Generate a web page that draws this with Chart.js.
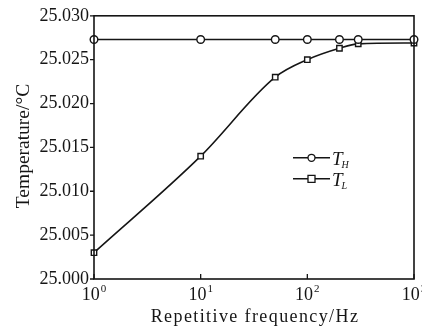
<!DOCTYPE html>
<html><head><meta charset="utf-8">
<script src="https://cdn.jsdelivr.net/npm/chart.js@4/dist/chart.umd.min.js"></script>
<style>html,body{margin:0;padding:0;background:#fff}#wrap{width:422px;height:332px}</style>
</head><body><div id="wrap"><canvas id="c" width="422" height="332"></canvas></div>
<script>
const frequencies = [1, 10, 50, 100, 200, 300, 1000];
const tempHigh = [25.0273, 25.0273, 25.0273, 25.0273, 25.0273, 25.0273, 25.0273];
const tempLow = [25.003, 25.014, 25.023, 25.025, 25.0263, 25.0268, 25.0269];
const xTicks = [1, 10, 100, 1000];
const xTickBase = '10';
const xTickExponents = ['0', '1', '2', '3'];
const seriesNames = [['T', 'H'], ['T', 'L']];
const xTitle = 'Repetitive frequency/Hz';
const yTitle = 'Temperature/\u00b0C';

const INK = '#151515';
const SERIF = '"Liberation Serif","Times New Roman",serif';

const framePlugin = {
  id: 'frame',
  afterDraw(chart) {
    const ctx = chart.ctx, a = chart.chartArea;
    const xs = chart.scales.x, ys = chart.scales.y;
    ctx.save();
    ctx.strokeStyle = INK;
    ctx.lineWidth = 1.6;
    ctx.strokeRect(a.left, a.top, a.right - a.left, a.bottom - a.top);
    ctx.lineWidth = 1.3;
    ctx.beginPath();
    xTicks.forEach(v => { const px = xs.getPixelForValue(v); ctx.moveTo(px, a.bottom); ctx.lineTo(px, a.bottom - 5); });
    ys.ticks.forEach(t => { const py = ys.getPixelForValue(t.value); ctx.moveTo(a.left, py); ctx.lineTo(a.left - 4, py); });
    ctx.stroke();
    // x tick labels with superscripts
    ctx.fillStyle = INK; ctx.textBaseline = 'alphabetic'; ctx.textAlign = 'left';
    xTicks.forEach((v, i) => {
      const px = xs.getPixelForValue(v);
      ctx.font = '18px ' + SERIF;
      const wb = ctx.measureText(xTickBase).width;
      ctx.font = '11px ' + SERIF;
      const we = ctx.measureText(xTickExponents[i]).width;
      const x0 = px - (wb + we + 1) / 2;
      ctx.font = '18px ' + SERIF;
      ctx.fillText(xTickBase, x0, a.bottom + 21);
      ctx.font = '11px ' + SERIF;
      ctx.fillText(xTickExponents[i], x0 + wb + 1, a.bottom + 13);
    });
    // axis titles
    ctx.font = '18px ' + SERIF;
    ctx.textAlign = 'center';
    try { ctx.letterSpacing = '1.4px'; } catch (e) {}
    ctx.fillText(xTitle, (a.left + a.right) / 2 + 1, 322);
    try { ctx.letterSpacing = '0px'; } catch (e) {}
    ctx.save();
    ctx.translate(29, 146);
    ctx.rotate(-Math.PI / 2);
    ctx.font = '19.5px ' + SERIF;
    ctx.fillText(yTitle, 0, 0);
    ctx.restore();
    // legend
    const lx = a.left + 199, ly = [a.top + 142, a.top + 163];
    chart.data.datasets.forEach((ds, i) => {
      const y = ly[i];
      ctx.strokeStyle = INK; ctx.lineWidth = 1.6;
      ctx.beginPath(); ctx.moveTo(lx, y); ctx.lineTo(lx + 37, y); ctx.stroke();
      ctx.fillStyle = '#fff'; ctx.lineWidth = 1.3;
      ctx.beginPath();
      if (ds.pointStyle === 'circle') { ctx.arc(lx + 18.5, y, 3.5, 0, Math.PI * 2); }
      else { ctx.rect(lx + 15, y - 3.5, 7, 7); }
      ctx.fill(); ctx.stroke();
      ctx.fillStyle = INK;
      ctx.textAlign = 'left';
      ctx.font = 'italic 19px ' + SERIF;
      ctx.fillText(seriesNames[i][0], lx + 39, y + 7);
      const w = ctx.measureText(seriesNames[i][0]).width;
      ctx.font = 'italic 10px ' + SERIF;
      ctx.fillText(seriesNames[i][1], lx + 39 + w - 1, y + 10);
    });
    ctx.restore();
  }
};

const ds = (data, style) => ({
  data: frequencies.map((f, i) => ({ x: f, y: data[i] })),
  borderColor: INK, borderWidth: 1.6,
  pointStyle: style, pointRadius: 3.8, pointBorderWidth: 1.4,
  pointBackgroundColor: '#fff', pointBorderColor: INK,
  cubicInterpolationMode: 'monotone', clip: false
});

new Chart(document.getElementById('c'), {
  type: 'line',
  data: { datasets: [ds(tempHigh, 'circle'), ds(tempLow, 'rect')] },
  options: {
    responsive: false, animation: false, devicePixelRatio: 1,
    layout: { padding: { top: 13, right: 8, left: 0, bottom: 0 } },
    plugins: { legend: { display: false }, tooltip: { enabled: false } },
    scales: {
      x: {
        type: 'logarithmic', min: 1, max: 1000,
        afterBuildTicks: s => { s.ticks = xTicks.map(v => ({ value: v })); },
        afterFit: s => { s.height = 53; },
        grid: { display: false, drawTicks: false }, border: { display: false },
        ticks: { display: true, callback: () => '' }
      },
      y: {
        min: 25.000, max: 25.030,
        afterFit: s => { s.width = 94; },
        grid: { display: false, drawTicks: false }, border: { display: false },
        ticks: { stepSize: 0.005, color: INK, font: { family: SERIF, size: 18 }, padding: 5,
          callback: v => Number(v).toFixed(3) }
      }
    }
  },
  plugins: [framePlugin]
});
</script></body></html>
